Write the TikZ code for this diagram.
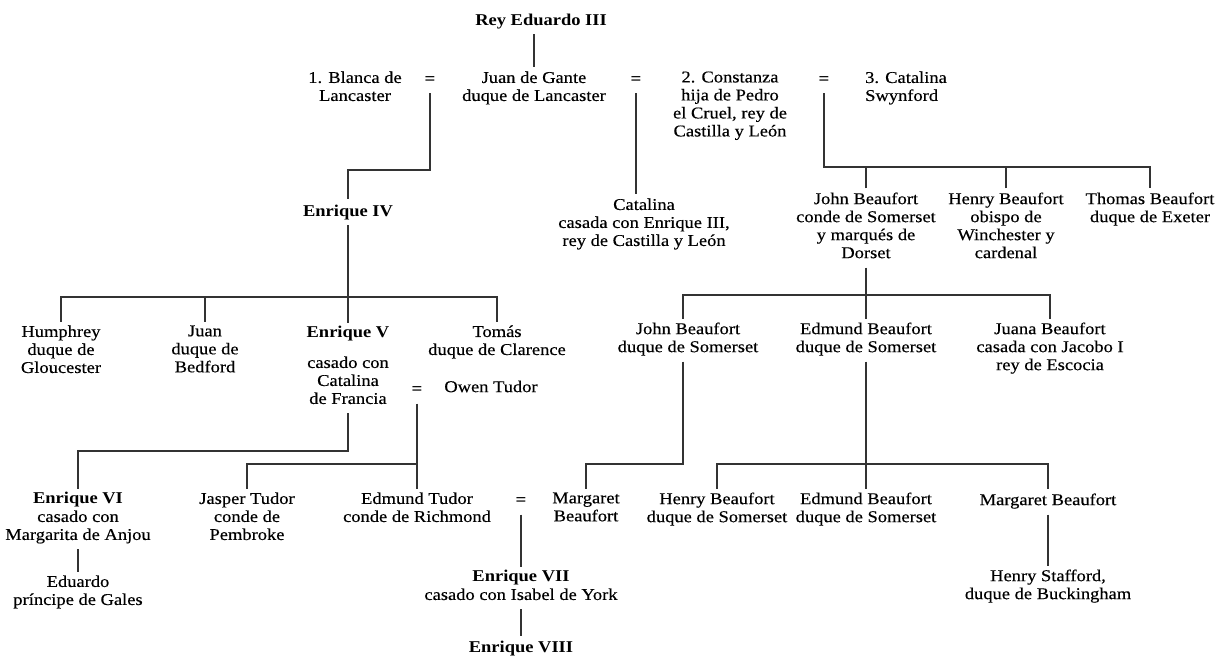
\documentclass[tikz,border=0pt]{standalone}
\usepackage{fontspec}
\setmainfont{Liberation Serif}[FakeStretch=1.12, UprightFeatures={FakeBold=0.35}]
\tikzset{
  lbl/.style={anchor=north, yshift=11.5pt, inner sep=0pt, outer sep=4pt,
    align=center, font=\fontsize{16.5}{18}\selectfont,
    execute at begin node=\strut, execute at end node=\strut},
  eqsign/.style={lbl, font=\fontsize{17}{18}\selectfont\bfseries},
  link/.style={line width=1.2pt, draw=black!80},
}
\begin{document}
\begin{tikzpicture}[x=1pt,y=-1pt]
\fill[white] (0,0) rectangle (1228,660);
\useasboundingbox (0,0) rectangle (1228,660);

% generation of Edward III and John of Gaunt
\node[lbl] (rey) at (541,20) {\textbf{Rey Eduardo III}};
\node[lbl] (blanca) at (355,79) {1. Blanca de\\Lancaster};
\node[eqsign] (eq1) at (430,79) {=};
\node[lbl] (gante) at (534,79) {Juan de Gante\\duque de Lancaster};
\node[eqsign] (eq2) at (636,79) {=};
\node[lbl] (constanza) at (730,79) {2. Constanza\\hija de Pedro\\el Cruel, rey de\\Castilla y León};
\node[eqsign] (eq3) at (824,79) {=};
\node[lbl, align=left] (swynford) at (906,79) {3. Catalina\\Swynford};

% children of John of Gaunt
\node[lbl] (enr4) at (348,211) {\textbf{Enrique IV}};
\node[lbl] (catE) at (644,206) {Catalina\\casada con Enrique III,\\rey de Castilla y León};
\node[lbl] (johnB1) at (866,200) {John Beaufort\\conde de Somerset\\y marqués de\\Dorset};
\node[lbl] (henryB1) at (1006,200) {Henry Beaufort\\obispo de\\Winchester y\\cardenal};
\node[lbl] (thomasB) at (1150,200) {Thomas Beaufort\\duque de Exeter};

% grandchildren
\node[lbl] (humphrey) at (61,333) {Humphrey\\duque de\\Gloucester};
\node[lbl] (juan) at (205,333) {Juan\\duque de\\Bedford};
\node[lbl] (enr5) at (348,334) {\textbf{Enrique V}\\[12pt]casado con\\Catalina\\de Francia};
\node[lbl] (tomas) at (497,333) {Tomás\\duque de Clarence};
\node[eqsign] (eq4) at (417,389) {=};
\node[lbl] (owen) at (491,387) {Owen Tudor};
\node[lbl] (johnB2) at (688,330) {John Beaufort\\duque de Somerset};
\node[lbl] (edmundB1) at (866,330) {Edmund Beaufort\\duque de Somerset};
\node[lbl] (juana) at (1050,330) {Juana Beaufort\\casada con Jacobo I\\rey de Escocia};

% next generation
\node[lbl] (enr6) at (78,500) {\textbf{Enrique VI}\\casado con\\Margarita de Anjou};
\node[lbl] (eduardo) at (78,583) {Eduardo\\príncipe de Gales};
\node[lbl] (jasper) at (247,500) {Jasper Tudor\\conde de\\Pembroke};
\node[lbl] (edmundT) at (417,500) {Edmund Tudor\\conde de Richmond};
\node[eqsign] (eq5) at (521,500) {=};
\node[lbl] (margaret1) at (586,500) {Margaret\\Beaufort};
\node[lbl] (henryB2) at (717,500) {Henry Beaufort\\duque de Somerset};
\node[lbl] (edmundB2) at (866,500) {Edmund Beaufort\\duque de Somerset};
\node[lbl] (margaretB) at (1048,500) {Margaret Beaufort};
\node[lbl] (enr7) at (521,578) {\textbf{Enrique VII}\\casado con Isabel de York};
\node[lbl] (enr8) at (521,647) {\textbf{Enrique VIII}};
\node[lbl] (stafford) at (1048,577) {Henry Stafford,\\duque de Buckingham};

% junctions of the family lines
\coordinate (k1) at (348,170);
\coordinate (k2) at (1150,167);
\coordinate (k3) at (866,295);
\coordinate (k4) at (348,297);
\coordinate (k5) at (348,451);
\coordinate (k6) at (417,464);
\coordinate (k7) at (683,464);
\coordinate (k8) at (866,464);

% descent lines
\draw[link] (rey.south -| gante.north) -- (gante.north);
\draw[link] (eq1.south) |- (k1) -- (enr4.north);
\draw[link] (eq2.south) -- (eq2.south |- catE.north);
\draw[link] (eq3.south) |- (k2) -- (thomasB.north);
\draw[link] (johnB1.north) -- (johnB1.north |- k2);
\draw[link] (henryB1.north) -- (henryB1.north |- k2);
\draw[link] (johnB1.south) -- (edmundB1.north);
\draw[link] (johnB2.north -| k7) |- (k3) -| (juana.north);
\draw[link] (enr4.south) -- (enr5.north);
\draw[link] (humphrey.north) |- (k4) -| (tomas.north);
\draw[link] (juan.north) -- (juan.north |- k4);
\draw[link] (enr5.south) -- (k5) -| (enr6.north);
\draw[link] (enr6.south) -- (eduardo.north);
\draw[link] (eq4.south) -- (edmundT.north);
\draw[link] (jasper.north) |- (k6);
\draw[link] (johnB2.south -| k7) -- (k7) -| (margaret1.north);
\draw[link] (edmundB1.south) -- (edmundB2.north);
\draw[link] (henryB2.north) |- (k8) -| (margaretB.north);
\draw[link] (eq5.south) -- (enr7.north);
\draw[link] (enr7.south) -- (enr8.north);
\draw[link] (margaretB.south) -- (stafford.north);
\end{tikzpicture}
\end{document}
